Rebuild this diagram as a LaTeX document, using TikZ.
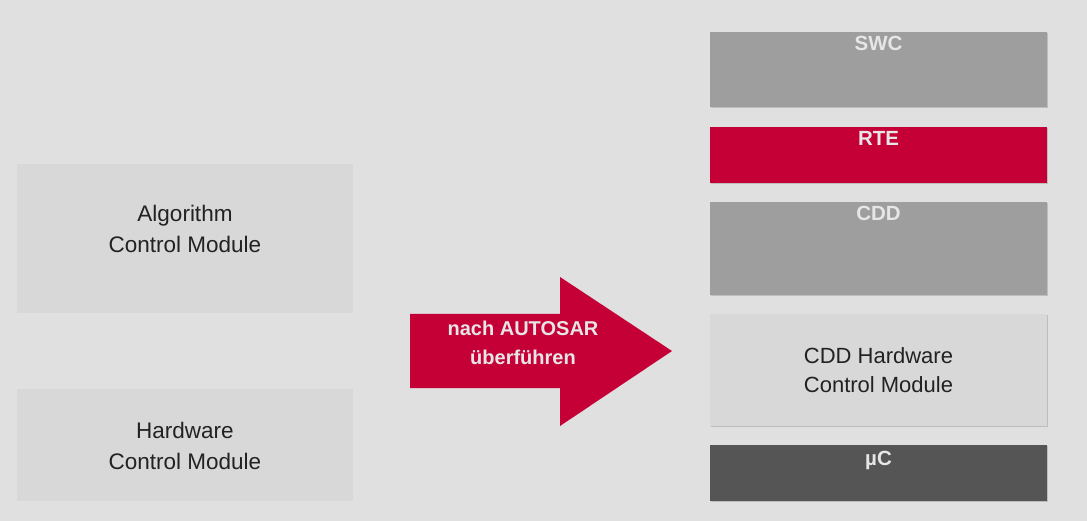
\documentclass[tikz,border=0pt]{standalone}
\usepackage{fontspec}
\setmainfont{Liberation Sans}
\definecolor{bg}{HTML}{E0E0E0}
\definecolor{lightbox}{HTML}{D8D8D8}
\definecolor{midgray}{HTML}{9E9E9E}
\definecolor{darkgray}{HTML}{555555}
\definecolor{crimson}{HTML}{C50037}
\definecolor{labeltxt}{HTML}{E6E6E6}
\definecolor{darktxt}{HTML}{222222}
\definecolor{shadowc}{HTML}{BDBDBD}
\tikzset{
  plainbox/.style={fill=lightbox, draw=none},
  shadowbox/.style={fill=shadowc, draw=none},
  bodytext/.style={text=darktxt, align=center, font=\fontsize{22.5}{31.5}\selectfont, inner sep=0pt},
  toplabel/.style={text=labeltxt, anchor=north, font=\bfseries\fontsize{20.5}{24}\selectfont, inner sep=0pt},
  arrowtext/.style={text=labeltxt, align=center, font=\bfseries\fontsize{20}{29}\selectfont, inner sep=0pt},
}
\begin{document}
\begin{tikzpicture}[x=1pt,y=-1pt]
\fill[bg] (0,0) rectangle (1087,521);
\useasboundingbox (0,0) rectangle (1087,521);

% left boxes
\fill[plainbox] (17,164) rectangle (353,313);
\node[bodytext] (alg) at (185,229) {Algorithm\\Control Module};
\fill[plainbox] (17,389) rectangle (353,501);
\node[bodytext] (hw) at (185,446) {Hardware\\Control Module};

% arrow
\fill[crimson] (410,314) -- (560,314) -- (560,277) -- (672,351) -- (560,426) -- (560,388) -- (410,388) -- cycle;
\node[arrowtext] (arr) at (523,343) {nach AUTOSAR\\überführen};

% right stack with shadows
\foreach \ya/\yb in {32/107,127/183,202/295,314/426,445/501}{
  \fill[shadowbox] (711,\ya+1.2) rectangle (1048.2,\yb+1.2);
}
\fill[midgray] (710,32) rectangle (1047,107);
\node[toplabel] (swc) at (878.5,36) {SWC};
\fill[crimson] (710,127) rectangle (1047,183);
\node[toplabel] (rte) at (878.5,131) {RTE};
\fill[midgray] (710,202) rectangle (1047,295);
\node[toplabel] (cdd) at (878.5,206) {CDD};
\fill[lightbox] (710,314) rectangle (1047,426);
\node[bodytext, font=\fontsize{22}{29}\selectfont] (cddhw) at (878.5,370) {CDD Hardware\\Control Module};
\fill[darkgray] (710,445) rectangle (1047,501);
\node[toplabel] (uc) at (878.5,451) {µC};
\end{tikzpicture}
\end{document}
